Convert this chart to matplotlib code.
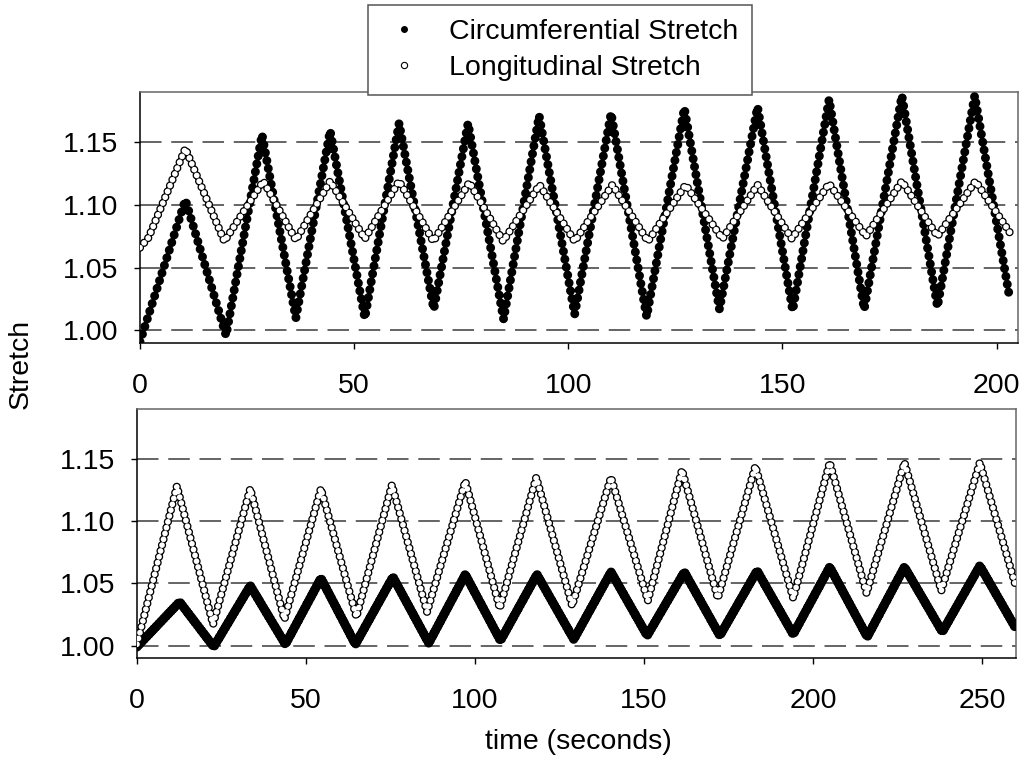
"""Circumferential and longitudinal stretch vs time, two loading protocols."""

import matplotlib

matplotlib.use("Agg")
import matplotlib.pyplot as plt
from matplotlib.lines import Line2D

plt.rcParams["font.family"] = ["Liberation Sans", "DejaVu Sans"]
plt.rcParams["lines.scale_dashes"] = False

# turning points (time s, stretch)
top_circ_t = [0, 10.6, 20.1, 28.5, 36.4, 44.4, 52.5, 60.5, 68.6, 76.6, 84.9, 93.2, 101.5,
              110.0, 118.3, 127.1, 135.3, 144.2, 152.4, 160.9, 169.1, 177.9, 186.2, 194.9, 203.1]
top_circ_v = [0.991, 1.104, 0.996, 1.156, 1.010, 1.159, 1.010, 1.165, 1.017, 1.165, 1.009, 1.171, 1.013,
              1.173, 1.011, 1.177, 1.017, 1.178, 1.016, 1.184, 1.017, 1.187, 1.019, 1.187, 1.025]

top_long_t = [0, 2.0, 10.6, 19.7, 28.8, 36.4, 44.4, 52.5, 60.5, 68.5, 76.9, 84.8, 93.3, 101.5,
              110.3, 118.6, 127.4, 136.0, 144.2, 152.2, 160.9, 169.5, 177.9, 186.2, 195.1, 203.1]
top_long_v = [1.066, 1.074, 1.145, 1.071, 1.119, 1.072, 1.119, 1.073, 1.119, 1.071, 1.118, 1.071, 1.116, 1.071,
              1.116, 1.071, 1.116, 1.073, 1.116, 1.073, 1.117, 1.075, 1.119, 1.075, 1.119, 1.078]

bot_circ_t = [0, 12.6, 22.7, 33.5, 43.9, 54.4, 64.6, 75.7, 86.3, 97.1, 107.5, 118.3, 129.2,
              140.2, 150.9, 161.9, 172.4, 183.4, 194.1, 204.9, 216.0, 227.0, 238.2, 249.3, 259.9]
bot_circ_v = [0.999, 1.035, 0.999, 1.048, 1.001, 1.054, 1.001, 1.055, 1.002, 1.057, 1.004, 1.057, 1.005,
              1.059, 1.008, 1.059, 1.008, 1.060, 1.009, 1.063, 1.007, 1.063, 1.011, 1.064, 1.014]

bot_long_t = [0, 11.8, 22.5, 33.5, 43.6, 54.4, 64.9, 75.4, 85.8, 97.1, 107.3, 118.1, 128.7,
              140.2, 151.1, 161.2, 171.8, 182.9, 194.1, 204.9, 215.8, 227.0, 237.9, 249.3, 259.9]
bot_long_v = [1.001, 1.128, 1.017, 1.126, 1.021, 1.126, 1.023, 1.129, 1.027, 1.132, 1.030, 1.135, 1.032,
              1.135, 1.036, 1.141, 1.038, 1.144, 1.038, 1.147, 1.042, 1.147, 1.044, 1.147, 1.048]

top_xticks = [0, 50, 100, 150, 200]
bot_xticks = [0, 50, 100, 150, 200, 250]
yticks = [1.00, 1.05, 1.10, 1.15]

PX = 0.72  # points per pixel at dpi=100
FS = 20.5


def dot_trace(ax, t, v, size_px, step_px, hollow=False, z=3):
    # dense round dots along the trace, like the sampled data points
    pattern = (0, (0.01, step_px * PX))
    ax.plot(t, v, color="black", lw=size_px * PX, ls=pattern,
            dash_capstyle="round", zorder=z)
    if hollow:
        ax.plot(t, v, color="white", lw=(size_px - 2.6) * PX, ls=pattern,
                dash_capstyle="round", zorder=z + 0.1)


def style_axes(ax, xmax, xticks):
    ax.set_xlim(0, xmax)
    ax.set_ylim(0.99, 1.19)
    ax.set_xticks(xticks)
    ax.set_yticks(yticks)
    ax.set_yticklabels([f"{y:.2f}" for y in yticks])
    for y in yticks:
        ax.axhline(y, color="#3a3a3a", lw=1.1, ls=(0, (15.5, 7)), zorder=1)
    ax.tick_params(direction="out", length=4.5, width=1, labelsize=FS,
                   top=False, right=False)
    ax.tick_params(axis="x", pad=17)
    ax.tick_params(axis="y", pad=11)
    for side in ("top", "right"):
        ax.spines[side].set_color("#666666")
    for side in ("left", "bottom"):
        ax.spines[side].set_color("black")
    for s in ax.spines.values():
        s.set_linewidth(1.1)


fig = plt.figure(figsize=(10.27, 7.71), dpi=100)
ax_top = fig.add_axes([0.1363, 0.5551, 0.8549, 0.3256])
ax_bot = fig.add_axes([0.1334, 0.1466, 0.8559, 0.3229])

dot_trace(ax_top, top_circ_t, top_circ_v, 9.0, 8.0)
dot_trace(ax_top, top_long_t, top_long_v, 8.3, 6.3, hollow=True, z=4)
style_axes(ax_top, 205, top_xticks)

dot_trace(ax_bot, bot_circ_t, bot_circ_v, 9.5, 3.5)
dot_trace(ax_bot, bot_long_t, bot_long_v, 8.3, 6.0, hollow=True, z=4)
style_axes(ax_bot, 260, bot_xticks)

handles = [
    Line2D([], [], ls="none", marker="o", markersize=4.0, color="black"),
    Line2D([], [], ls="none", marker="o", markersize=4.5, markerfacecolor="white",
           markeredgecolor="black", markeredgewidth=0.8),
]
leg = fig.legend(handles, ["Circumferential Stretch", "Longitudinal Stretch"],
                 loc="center", bbox_to_anchor=(0.5453, 0.9351), fontsize=FS,
                 frameon=True, fancybox=False, framealpha=1, edgecolor="#555555",
                 handlelength=1.55, handletextpad=0.8, borderpad=0.5,
                 labelspacing=0.35, borderaxespad=0)
leg.get_frame().set_linewidth(1.1)

fig.text(0.0205, 0.528, "Stretch", rotation=90, ha="center", va="center", fontsize=FS)
fig.text(0.5628, 0.0376, "time (seconds)", ha="center", va="center", fontsize=FS)

fig.savefig("out.png", dpi=100)
plt.close(fig)
